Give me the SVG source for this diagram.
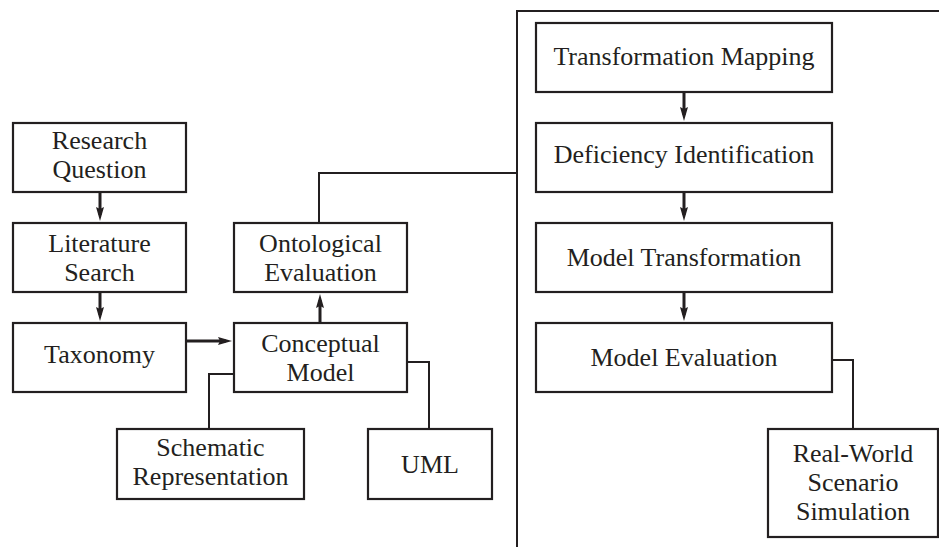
<svg xmlns="http://www.w3.org/2000/svg" width="939" height="547" viewBox="0 0 939 547">
  <style>
    .box { fill: #ffffff; stroke: #231f20; stroke-width: 2.2; }
    .lbl { font-size: 26px; fill: #231f20; text-anchor: middle; }
    .link { fill: none; stroke: #231f20; stroke-width: 2; }
    .arrow { fill: none; stroke: #231f20; stroke-width: 3; marker-end: url(#head); }
  </style>
  <defs>
    <marker id="head" markerUnits="userSpaceOnUse" markerWidth="14" markerHeight="8" refX="8" refY="4" orient="auto" viewBox="0 0 14 8">
      <path d="M0,0 L14,4 L0,8 L2,4 Z" fill="#231f20"/>
    </marker>
  </defs>
  <rect width="939" height="547" fill="#ffffff"/>

  <!-- connectors -->
  <g id="connectors">
    <!-- divider and top rule -->
    <path class="link" d="M517,547 V11 H939"/>
    <!-- ontological evaluation to right-hand process -->
    <path class="link" d="M319,223 V173 H517"/>
    <!-- conceptual model to its representations -->
    <path class="link" d="M234,374 H209 V429"/>
    <path class="link" d="M407,362 H429 V429"/>
    <!-- model evaluation to simulation -->
    <path class="link" d="M832,360 H853 V429"/>
    <!-- arrows -->
    <line class="arrow" x1="100" y1="192" x2="100" y2="215"/>
    <line class="arrow" x1="100" y1="292" x2="100" y2="315"/>
    <line class="arrow" x1="186" y1="341" x2="226" y2="341"/>
    <line class="arrow" x1="320" y1="323" x2="320" y2="300"/>
    <line class="arrow" x1="684" y1="92" x2="684" y2="115"/>
    <line class="arrow" x1="684" y1="192" x2="684" y2="215"/>
    <line class="arrow" x1="684" y1="292" x2="684" y2="315"/>
  </g>

  <g font-family="Liberation Serif, Times New Roman, Times, serif">
  <g id="research-question">
    <rect class="box" x="13" y="123" width="173" height="69"/>
    <text class="lbl" x="99.5" y="149">Research</text>
    <text class="lbl" x="99.5" y="178">Question</text>
  </g>
  <g id="literature-search">
    <rect class="box" x="13" y="223" width="173" height="69"/>
    <text class="lbl" x="99.5" y="252">Literature</text>
    <text class="lbl" x="99.5" y="281">Search</text>
  </g>
  <g id="taxonomy">
    <rect class="box" x="13" y="323" width="173" height="69"/>
    <text class="lbl" x="99.5" y="363">Taxonomy</text>
  </g>
  <g id="ontological-evaluation">
    <rect class="box" x="234" y="223" width="173" height="69"/>
    <text class="lbl" x="320.5" y="252">Ontological</text>
    <text class="lbl" x="320.5" y="281">Evaluation</text>
  </g>
  <g id="conceptual-model">
    <rect class="box" x="234" y="323" width="173" height="69"/>
    <text class="lbl" x="320.5" y="352">Conceptual</text>
    <text class="lbl" x="320.5" y="381">Model</text>
  </g>
  <g id="schematic-representation">
    <rect class="box" x="117" y="429" width="187" height="70"/>
    <text class="lbl" x="210.5" y="456">Schematic</text>
    <text class="lbl" x="210.5" y="485">Representation</text>
  </g>
  <g id="uml">
    <rect class="box" x="368" y="429" width="124" height="70"/>
    <text class="lbl" x="430" y="473">UML</text>
  </g>
  <g id="transformation-mapping">
    <rect class="box" x="536" y="23" width="296" height="69"/>
    <text class="lbl" x="684" y="65">Transformation Mapping</text>
  </g>
  <g id="deficiency-identification">
    <rect class="box" x="536" y="123" width="296" height="69"/>
    <text class="lbl" x="684" y="163">Deficiency Identification</text>
  </g>
  <g id="model-transformation">
    <rect class="box" x="536" y="223" width="296" height="69"/>
    <text class="lbl" x="684" y="266">Model Transformation</text>
  </g>
  <g id="model-evaluation">
    <rect class="box" x="536" y="323" width="296" height="69"/>
    <text class="lbl" x="684" y="366">Model Evaluation</text>
  </g>
  <g id="real-world-scenario-simulation">
    <rect class="box" x="768" y="429" width="170" height="108"/>
    <text class="lbl" x="853" y="462">Real-World</text>
    <text class="lbl" x="853" y="491">Scenario</text>
    <text class="lbl" x="853" y="520">Simulation</text>
  </g>
  </g>
</svg>
